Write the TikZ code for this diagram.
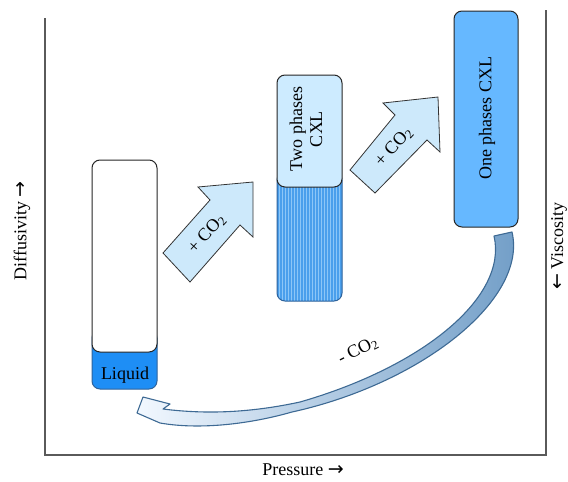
\documentclass[tikz,border=0pt]{standalone}
\usepackage{fontspec}
\setmainfont{Liberation Serif}
\newfontfamily\arrfont{DejaVu Sans}
\usetikzlibrary{patterns}
\definecolor{axisc}{HTML}{5A5A5A}
\definecolor{arrowfill}{HTML}{CDE9FB}
\definecolor{onephase}{HTML}{66B8FF}
\definecolor{twotop}{HTML}{CDEBFF}
\definecolor{liqblue}{HTML}{1E8EF5}
\definecolor{dotblue}{HTML}{4A9FEC}
\definecolor{dotline}{HTML}{8CC6F7}
\definecolor{darkedge}{HTML}{2F639B}
\definecolor{curveedge}{HTML}{3E6A94}
\definecolor{curvedark}{HTML}{6F9CC6}
\definecolor{curvelight}{HTML}{F2F8FF}
\newcommand{\rarr}{{\arrfont\fontsize{19}{20}\selectfont →}}
\newcommand{\larr}{{\arrfont\fontsize{19}{20}\selectfont ←}}
\tikzset{
  axisline/.style={draw=axisc, line width=1.4pt},
  lbl/.style={font=\fontsize{18}{20}\selectfont, inner sep=0pt},
  blockarrow/.style={fill=arrowfill, draw=black!80, line width=0.8pt, line join=miter},
  vessel/.style={rounded corners=8pt, line width=1pt}
}
\begin{document}
\begin{tikzpicture}[x=1pt,y=-1pt]
\useasboundingbox (0,0) rectangle (568,482);
% axes
\coordinate (lt) at (45,18);
\coordinate (lb) at (45,455);
\coordinate (rb) at (546,455);
\coordinate (rt) at (546,10);
\draw[axisline] (lt) -- (lb) -- (rb) -- (rt);
\node[lbl, rotate=90] (diff) at (22,231) {Diffusivity \rarr};
\node[lbl, rotate=90] (visc) at (559,246) {\larr\ Viscosity};
\node[lbl] (press) at (303,470) {Pressure \rarr};

% liquid vessel
\draw[vessel, fill=liqblue, draw=darkedge] (92,330) rectangle (157,389);
\draw[vessel, fill=white, draw=black!85] (92,160) rectangle (157,352);
\node[lbl] (liq) at (125,375) {Liquid};

% two phases vessel
\path[vessel, fill=dotblue] (277,172) rectangle (342,301);
\path[vessel, pattern=vertical lines, pattern color=dotline] (277,172) rectangle (342,301);
\draw[vessel, draw=darkedge] (277,172) rectangle (342,301);
\draw[vessel, fill=twotop, draw=black!85] (277,75) rectangle (342,187);
\node[lbl, rotate=90, align=center] (two) at (306,129) {Two phases\\CXL};

% one phase vessel
\draw[vessel, fill=onephase, draw=black!85] (454,11) rectangle (518,227);
\node[lbl, rotate=90] (one) at (487,118) {One phases CXL};

% block arrows
\draw[blockarrow] (253,182) -- (198,187) -- (210,200) -- (163,253) -- (190,282) -- (240,225) -- (253,237) -- cycle;
\node[lbl, rotate=48] (co2a) at (207,234) {+ CO\textsubscript{2}};
\draw[blockarrow] (438,97) -- (383,103) -- (395,115) -- (350,170) -- (375,193) -- (427,140) -- (440,152) -- cycle;
\node[lbl, rotate=48] (co2b) at (394,147) {+ CO\textsubscript{2}};

% curved return arrow
\draw[curveedge, line width=1.1pt, line join=round, left color=curvelight, right color=curvedark]
  (494,236) .. controls (508,296) and (425,366) .. (300,402)
  .. controls (240,415) and (195,413) .. (163,409)
  -- (170,404) -- (143,397) -- (137,413) -- (160,423)
  .. controls (200,430) and (250,424) .. (292,412)
  .. controls (420,384) and (528,300) .. (512,232) -- cycle;
\node[lbl, rotate=27] (co2c) at (358,351) {- CO\textsubscript{2}};
\end{tikzpicture}
\end{document}
